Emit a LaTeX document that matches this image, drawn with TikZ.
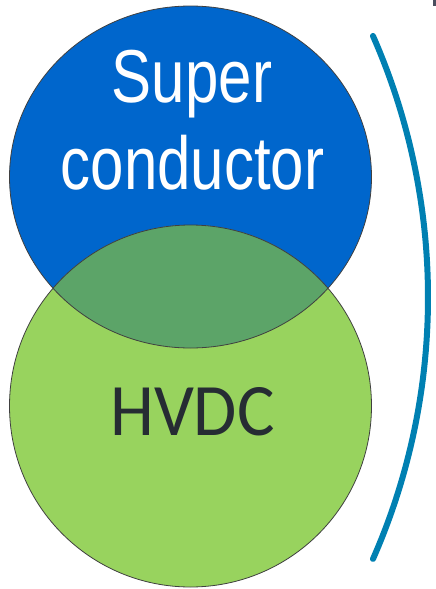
\documentclass[tikz,border=0pt]{standalone}
\usepackage{fontspec}
\newfontfamily\supfont[FakeStretch=0.8]{Liberation Sans}
\newfontfamily\hvdcfont[FakeStretch=0.95]{Carlito}
\definecolor{supblue}{RGB}{0,102,204}
\definecolor{hvgreen}{RGB}{152,211,94}
\definecolor{overlapgreen}{RGB}{92,164,104}
\definecolor{brackblue}{RGB}{0,128,178}
\definecolor{textdark}{RGB}{38,44,51}
\definecolor{markgray}{RGB}{74,78,94}
\tikzset{
  outline/.style={draw=black!75, line width=0.8pt},
  suplabel/.style={text=white, font=\supfont\fontsize{75}{87}\selectfont, anchor=base, inner sep=0pt},
  hvlabel/.style={text=textdark, font=\hvdcfont\fontsize{74}{87}\selectfont, anchor=base, inner sep=0pt},
  bracket/.style={draw=brackblue, line width=6pt, line cap=round}
}
\begin{document}
\begin{tikzpicture}[x=1pt,y=-1pt]
\useasboundingbox (0,0) rectangle (436,589);
% top ellipse (Super conductor)
\fill[supblue] (190.5,177) ellipse[x radius=181, y radius=171];
% bottom circle (HVDC)
\fill[hvgreen] (190.5,406) circle[radius=181];
% overlap
\begin{scope}
  \clip (190.5,177) ellipse[x radius=181, y radius=171];
  \fill[overlapgreen] (190.5,406) circle[radius=181];
\end{scope}
% outlines
\draw[outline] (190.5,177) ellipse[x radius=181, y radius=171];
\draw[outline] (190.5,406) circle[radius=181];
% labels
\node[suplabel] (super) at (192,102) {Super};
\node[suplabel] (conductor) at (192.5,189) {conductor};
\node[hvlabel] (hvdc) at (192.5,435) {HVDC};
% bracket
\coordinate (btop) at (373,36);
\draw[bracket] (btop) arc[start angle=-23.76, end angle=23.76, radius=649];
% small corner mark
\fill[markgray] (433,0) rectangle (436,6);
\end{tikzpicture}
\end{document}
